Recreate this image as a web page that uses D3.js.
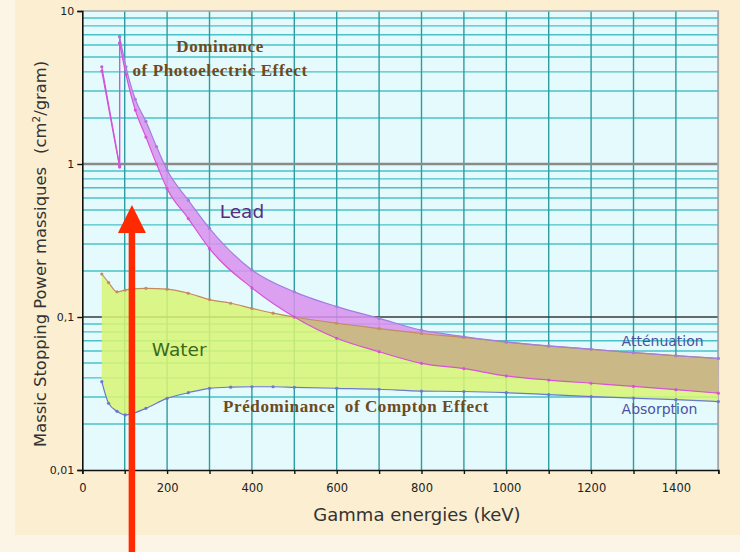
<!DOCTYPE html>
<html>
<head>
<meta charset="utf-8">
<script src="https://cdn.jsdelivr.net/npm/d3@7"></script>
<style>
  body { margin: 0; background: #fcf4e4; }
  svg { display: block; }
</style>
</head>
<body>
<div id="chart"></div>
<script>

    // Lead, before the K edge (thin band, then the jump at 88 keV)
    var leadEdgeEnergy = [46, 88, 88];
    var leadEdgeAtt = [4.32, 0.975, 6.79];
    var leadEdgeAbs = [4.05, 0.955, 6.17];

    // Lead, after the K edge
    var leadEnergy = [88, 103, 125, 150, 175, 200, 250, 300, 400, 500, 600, 700, 800, 900, 1000, 1100, 1200, 1300, 1400, 1500];
    var leadAtt = [6.79, 4.32, 2.65, 1.9, 1.3, 0.913, 0.58, 0.38, 0.203, 0.146, 0.117, 0.098, 0.082, 0.0745, 0.0687, 0.0647, 0.0616, 0.0585, 0.0558, 0.0537];
    var leadAbs = [6.17, 3.85, 2.25, 1.5, 1.0, 0.69, 0.44, 0.28, 0.155, 0.100, 0.0726, 0.0593, 0.0498, 0.046, 0.0412, 0.0387, 0.0369, 0.0352, 0.0335, 0.0318];

    // Water
    var waterEnergy = [46, 62, 82, 101, 113, 150, 200, 250, 300, 350, 400, 450, 500, 600, 700, 800, 900, 1000, 1100, 1200, 1300, 1400, 1500];
    var waterAtt = [0.191, 0.168, 0.146, 0.150, 0.152, 0.154, 0.152, 0.143, 0.130, 0.123, 0.114, 0.106, 0.100, 0.091, 0.084, 0.078, 0.0735, 0.0685, 0.0646, 0.0615, 0.0585, 0.056, 0.0535];
    var waterAbs = [0.0378, 0.0273, 0.0242, 0.0229, 0.0232, 0.0253, 0.0294, 0.032, 0.0342, 0.0348, 0.035, 0.035, 0.0347, 0.0342, 0.0337, 0.0328, 0.0326, 0.032, 0.0311, 0.0302, 0.0295, 0.0288, 0.028];

    // axes
    var xTickValues = [0, 100, 200, 300, 400, 500, 600, 700, 800, 900, 1000, 1100, 1200, 1300, 1400, 1500];
    var xLabelValues = [0, 200, 400, 600, 800, 1000, 1200, 1400];
    var yTickValues = [0.01, 0.1, 1, 10];
    var yTickLabels = ["0,01", "0,1", "1", "10"];

    // red arrow marker (energy, tip value)
    var arrowEnergy = 117;
    var arrowTip = 0.54;

    //Color Palette
    var plotBg = "#e4fafc";
    var hGrid = "#48c2c8";
    var vGrid = "#2f9ca2";
    var leadFill = "#da92ee";
    var waterFill = "#daf474";
    var overlapFill = "#c8bb7c";
    var leadTopColor = "#a27ee0";
    var leadBottomColor = "#d852d8";
    var waterTopColor = "#c48a60";
    var waterBottomColor = "#6a78d0";
    var serifBrown = "#6e4a1c";
    var labelBlue = "#4b52a2";

    const W = 740, H = 552;
    const margin = { top: 11, right: 21.7, bottom: 82, left: 82.3 },
      width = W - margin.left - margin.right,
      height = H - margin.top - margin.bottom;

    const svg = d3.select("#chart")
      .append("svg")
      .attr("width", W)
      .attr("height", H);

    // cream panel
    svg.append("rect").attr("width", W).attr("height", H).attr("fill", "#fcf4e4");
    svg.append("rect").attr("x", 15).attr("y", 0).attr("width", W - 15).attr("height", 535).attr("fill", "#fbeed1");

    const g = svg.append("g")
      .attr("transform", `translate(${margin.left},${margin.top})`);

    const x = d3.scaleLinear().domain([0, 1500]).range([0, width]);
    const y = d3.scaleLog().domain([0.01, 10]).range([height, 0]);

    g.append("rect").attr("width", width).attr("height", height).attr("fill", plotBg);

    // horizontal log grid
    g.selectAll(".hgrid")
      .data(y.ticks().filter(function (v) { return yTickValues.indexOf(v) < 0; }))
      .enter()
      .append("line")
      .attr("x1", 0).attr("x2", width)
      .attr("y1", function (d) { return y(d); })
      .attr("y2", function (d) { return y(d); })
      .attr("stroke", hGrid)
      .attr("stroke-width", 1.4);

    // vertical grid
    g.selectAll(".vgrid")
      .data(xTickValues.slice(1))
      .enter()
      .append("line")
      .attr("y1", 0).attr("y2", height)
      .attr("x1", function (d) { return x(d); })
      .attr("x2", function (d) { return x(d); })
      .attr("stroke", vGrid)
      .attr("stroke-width", 1.4);

    // decade lines
    g.append("line").attr("x1", 0).attr("x2", width).attr("y1", y(1)).attr("y2", y(1))
      .attr("stroke", "#8a8a8a").attr("stroke-width", 2.4);
    g.append("line").attr("x1", 0).attr("x2", width).attr("y1", y(0.1)).attr("y2", y(0.1))
      .attr("stroke", "#3a3a3a").attr("stroke-width", 1.6);

    // top & right border
    g.append("path")
      .attr("d", `M0,0H${width}V${height}`)
      .attr("fill", "none")
      .attr("stroke", "#a8a8a8")
      .attr("stroke-width", 1.6);

    function rows(es, a, b) {
      return es.map(function (e, i) { return { e: e, top: a[i], bottom: b[i] }; });
    }
    var waterRows = rows(waterEnergy, waterAtt, waterAbs);
    var leadRows = rows(leadEnergy, leadAtt, leadAbs);
    var leadEdgeRows = rows(leadEdgeEnergy, leadEdgeAtt, leadEdgeAbs);

    const areaSmooth = d3.area()
      .x(function (d) { return x(d.e); })
      .y0(function (d) { return y(d.bottom); })
      .y1(function (d) { return y(d.top); })
      .curve(d3.curveMonotoneX);
    const areaLinear = d3.area()
      .x(function (d) { return x(d.e); })
      .y0(function (d) { return y(d.bottom); })
      .y1(function (d) { return y(d.top); });

    // water band
    g.append("path").datum(waterRows).attr("d", areaSmooth)
      .attr("fill", waterFill).attr("fill-opacity", 0.86);

    // lead band
    g.append("path").datum(leadEdgeRows.slice(0, 2)).attr("d", areaLinear)
      .attr("fill", leadFill).attr("fill-opacity", 0.86);
    g.append("path").datum(leadRows).attr("d", areaSmooth)
      .attr("fill", leadFill).attr("fill-opacity", 0.86);

    // overlap (lead inside water) in brown
    svg.append("defs").append("clipPath").attr("id", "waterClip")
      .append("path").datum(waterRows).attr("d", areaSmooth);
    g.append("path").datum(leadRows).attr("d", areaSmooth)
      .attr("clip-path", "url(#waterClip)")
      .attr("fill", overlapFill).attr("fill-opacity", 0.9);

    // edge lines + dots
    function drawLine(data, key, color, curve) {
      const line = d3.line()
        .x(function (d) { return x(d.e); })
        .y(function (d) { return y(d[key]); })
        .curve(curve);
      g.append("path").datum(data).attr("d", line)
        .attr("fill", "none").attr("stroke", color).attr("stroke-width", 1.2);
      g.selectAll(null).data(data).enter().append("circle")
        .attr("cx", function (d) { return x(d.e); })
        .attr("cy", function (d) { return y(d[key]); })
        .attr("r", 1.6)
        .attr("fill", color);
    }
    drawLine(waterRows, "top", waterTopColor, d3.curveMonotoneX);
    drawLine(waterRows, "bottom", waterBottomColor, d3.curveMonotoneX);
    drawLine(leadEdgeRows, "top", "#c85ad8", d3.curveLinear);
    drawLine(leadEdgeRows, "bottom", leadBottomColor, d3.curveLinear);
    drawLine(leadRows, "top", leadTopColor, d3.curveMonotoneX);
    drawLine(leadRows, "bottom", leadBottomColor, d3.curveMonotoneX);

    // X axis
    g.append("g")
      .attr("transform", `translate(0,${height})`)
      .call(d3.axisBottom(x).tickValues(xTickValues).tickSize(4).tickPadding(10)
        .tickFormat(function (d) { return xLabelValues.indexOf(d) >= 0 ? d : ""; }))
      .call(function (ax) {
        ax.select(".domain").attr("stroke", "#111").attr("stroke-width", 1.6);
        ax.selectAll(".tick line").attr("stroke", "#111").attr("stroke-width", 1.4);
        ax.selectAll("text").style("font-family", "DejaVu Sans").style("font-size", "11.5px").attr("fill", "#222");
      });

    // Y axis
    g.append("g")
      .call(d3.axisLeft(y).tickValues(yTickValues).tickSize(5).tickPadding(3)
        .tickFormat(function (d, i) { return yTickLabels[i]; }))
      .call(function (ax) {
        ax.select(".domain").attr("stroke", "#111").attr("stroke-width", 1.6);
        ax.selectAll(".tick line").attr("stroke", "#111").attr("stroke-width", 1.4);
        ax.selectAll("text").style("font-family", "DejaVu Sans").style("font-size", "11px").attr("fill", "#222");
      });

    // axis titles
    svg.append("text")
      .attr("x", 417).attr("y", 521)
      .attr("text-anchor", "middle")
      .style("font-family", "DejaVu Sans")
      .style("font-size", "18px")
      .attr("fill", "#333")
      .text("Gamma energies (keV)");

    const yt = svg.append("text")
      .attr("transform", "translate(46,447) rotate(-90)")
      .attr("text-anchor", "start")
      .style("font-family", "DejaVu Sans")
      .style("font-size", "16.4px")
      .attr("fill", "#333");
    yt.append("tspan").text("Massic Stopping Power massiques");
    yt.append("tspan").attr("dx", 13).text("(cm");
    yt.append("tspan").attr("dy", -6).style("font-size", "10.5px").text("2");
    yt.append("tspan").attr("dy", 6).text("/gram)");

    // annotations
    function serif(txt, cx, cy, anchor) {
      return g.append("text")
        .attr("x", cx).attr("y", cy)
        .attr("text-anchor", anchor)
        .style("font-family", "Liberation Serif")
        .style("font-weight", "bold")
        .style("font-size", "17px")
        .style("letter-spacing", "0.6px")
        .style("white-space", "pre")
        .attr("fill", serifBrown)
        .text(txt);
    }
    serif("Dominance", x(325), y(5.4), "middle");
    serif("of Photoelectric Effect", x(325), y(3.76), "middle");
    serif("Prédominance  of Compton Effect", x(332), y(0.024), "start");

    g.append("text")
      .attr("x", x(324)).attr("y", y(0.444))
      .style("font-family", "DejaVu Sans")
      .style("font-size", "18.5px")
      .attr("fill", "#5b2a7c")
      .text("Lead");
    g.append("text")
      .attr("x", x(164)).attr("y", y(0.0556))
      .style("font-family", "DejaVu Sans")
      .style("font-size", "18.5px")
      .attr("fill", "#3b6a1c")
      .text("Water");
    g.append("text")
      .attr("x", x(1272)).attr("y", y(0.0646))
      .style("font-family", "DejaVu Sans")
      .style("font-size", "14px")
      .attr("fill", labelBlue)
      .text("Atténuation");
    g.append("text")
      .attr("x", x(1272)).attr("y", y(0.0232))
      .style("font-family", "DejaVu Sans")
      .style("font-size", "14px")
      .attr("fill", labelBlue)
      .text("Absorption");

    // red arrow
    var ax0 = margin.left + x(arrowEnergy);
    var tipY = margin.top + y(arrowTip);
    svg.append("line")
      .attr("x1", ax0).attr("x2", ax0)
      .attr("y1", tipY + 20).attr("y2", H)
      .attr("stroke", "#ff2a00")
      .attr("stroke-width", 6.5);
    svg.append("path")
      .attr("d", `M${ax0},${tipY}L${ax0 + 14},${tipY + 28}L${ax0 - 14},${tipY + 28}Z`)
      .attr("fill", "#ff2a00");

</script>
</body>
</html>
